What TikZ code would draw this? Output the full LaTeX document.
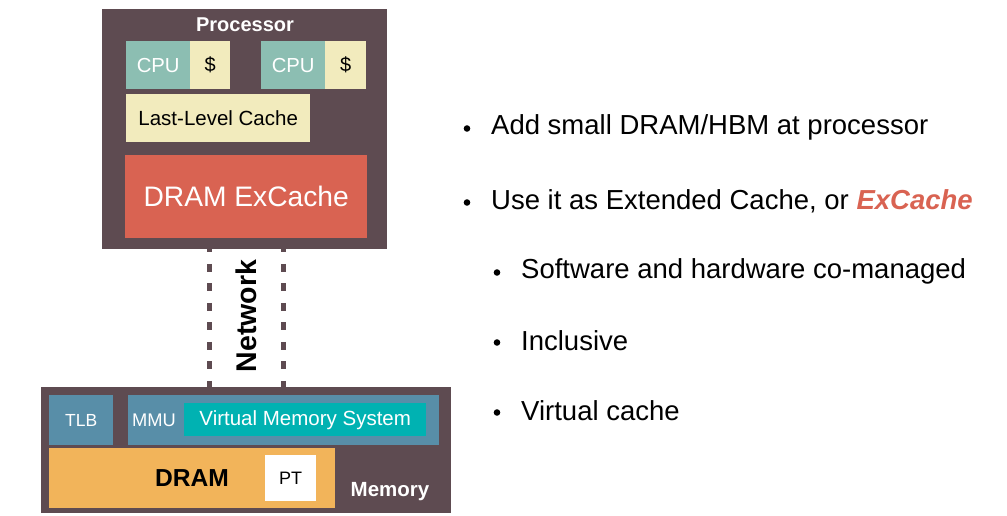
\documentclass[tikz,border=0pt]{standalone}
\usepackage{fontspec}
\setmainfont{Liberation Sans}
\usepackage{tikz}
\usetikzlibrary{positioning}

\definecolor{boxbrown}{RGB}{94,75,81}
\definecolor{cputeal}{RGB}{140,190,178}
\definecolor{cachecream}{RGB}{242,235,189}
\definecolor{excred}{RGB}{217,99,82}
\definecolor{mmublue}{RGB}{88,142,168}
\definecolor{vmteal}{RGB}{0,178,178}
\definecolor{dramorange}{RGB}{242,180,90}

\tikzset{
  blk/.style={draw=none,inner sep=0pt,anchor=north west},
  cpubox/.style={blk,fill=cputeal,text=white,minimum width=64pt,minimum height=48pt,
    font=\fontsize{20.3}{20.3}\selectfont},
  cachebox/.style={blk,fill=cachecream,text=black,minimum height=48pt,
    font=\fontsize{20}{20}\selectfont},
  netlink/.style={boxbrown,line width=5pt,dash pattern=on 8pt off 11.5pt},
  bullet/.style={anchor=west,inner sep=0pt,font=\fontsize{27.5}{27.5}\selectfont},
}

\begin{document}
\begin{tikzpicture}[x=1pt,y=-1pt]
    \useasboundingbox (0,0) rectangle (1007,516);
    % processor side
    \node[blk,fill=boxbrown,minimum width=285pt,minimum height=240pt] (proc) at (102,9) {};
    \node[text=white,font=\bfseries\fontsize{20}{20}\selectfont] (proclabel) at (245,25) {Processor};
    \node[cpubox] (cpua) at (126,41) {CPU};
    \node[cachebox,minimum width=40pt] (ca) at (190,41) {\$};
    \node[cpubox] (cpub) at (261,41) {CPU};
    \node[cachebox,minimum width=41pt] (cb) at (325,41) {\$};
    \node[cachebox,minimum width=184pt,font=\fontsize{20.5}{20.5}\selectfont] (llc) at (126,94) {Last-Level Cache};
    \node[blk,fill=excred,text=white,minimum width=242pt,minimum height=83pt,
      font=\fontsize{28.2}{28.2}\selectfont] (exc) at (125,155) {DRAM ExCache};
    % memory side
    \node[blk,fill=boxbrown,minimum width=410pt,minimum height=126pt] (mem) at (41,387) {};
    \node[blk,fill=mmublue,text=white,minimum width=64pt,minimum height=50pt,
      font=\fontsize{17.5}{17.5}\selectfont] (tlb) at (49,395) {TLB};
    \node[blk,fill=mmublue,minimum width=311pt,minimum height=50pt] (mmu) at (128,395) {};
    \node[text=white,anchor=west,inner sep=0pt,font=\fontsize{18.3}{18.3}\selectfont] (mmulabel) at (132,420) {MMU};
    \node[blk,fill=vmteal,text=white,minimum width=242pt,minimum height=33pt,
      font=\fontsize{20.5}{20.5}\selectfont] (vms) at (184,403) {Virtual Memory System};
    \node[blk,fill=dramorange,minimum width=286pt,minimum height=60pt] (dram) at (49,448) {};
    \node[font=\bfseries\fontsize{24.6}{24.6}\selectfont] (dramlabel) at (192,478) {DRAM};
    \node[blk,fill=white,minimum width=51pt,minimum height=46pt,
      font=\fontsize{18}{18}\selectfont] (pt) at (265,455) {PT};
    \node[text=white,font=\bfseries\fontsize{20.5}{20.5}\selectfont] (memlabel) at (390,492) {Memory};
    % network
    \coordinate (neta) at (209,0);
    \coordinate (netb) at (283,0);
    \draw[netlink] ([yshift=5pt]proc.south -| neta) -- (mem.north -| neta);
    \draw[netlink] ([yshift=5pt]proc.south -| netb) -- (mem.north -| netb);
    \node[rotate=90,font=\bfseries\fontsize{28.5}{28.5}\selectfont] (netlabel) at (246,316) {Network};
    % bullets
    \node[bullet] (b1) at (491,127) {Add small DRAM/HBM at processor};
    \node[bullet] (b2) at (491,201) {Use it as Extended Cache, or \textcolor{excred}{\bfseries\itshape ExCache}};
    \node[bullet] (b3) at (521,271) {Software and hardware co-managed};
    \node[bullet] (b4) at (521,341) {Inclusive};
    \node[bullet] (b5) at (521,411) {Virtual cache};
    \foreach \b/\x in {b1/467,b2/467,b3/497,b4/497,b5/497}
      \fill (\x,0 |- \b.west) ++(0,1.5) circle (3.3pt);
\end{tikzpicture}
\end{document}
